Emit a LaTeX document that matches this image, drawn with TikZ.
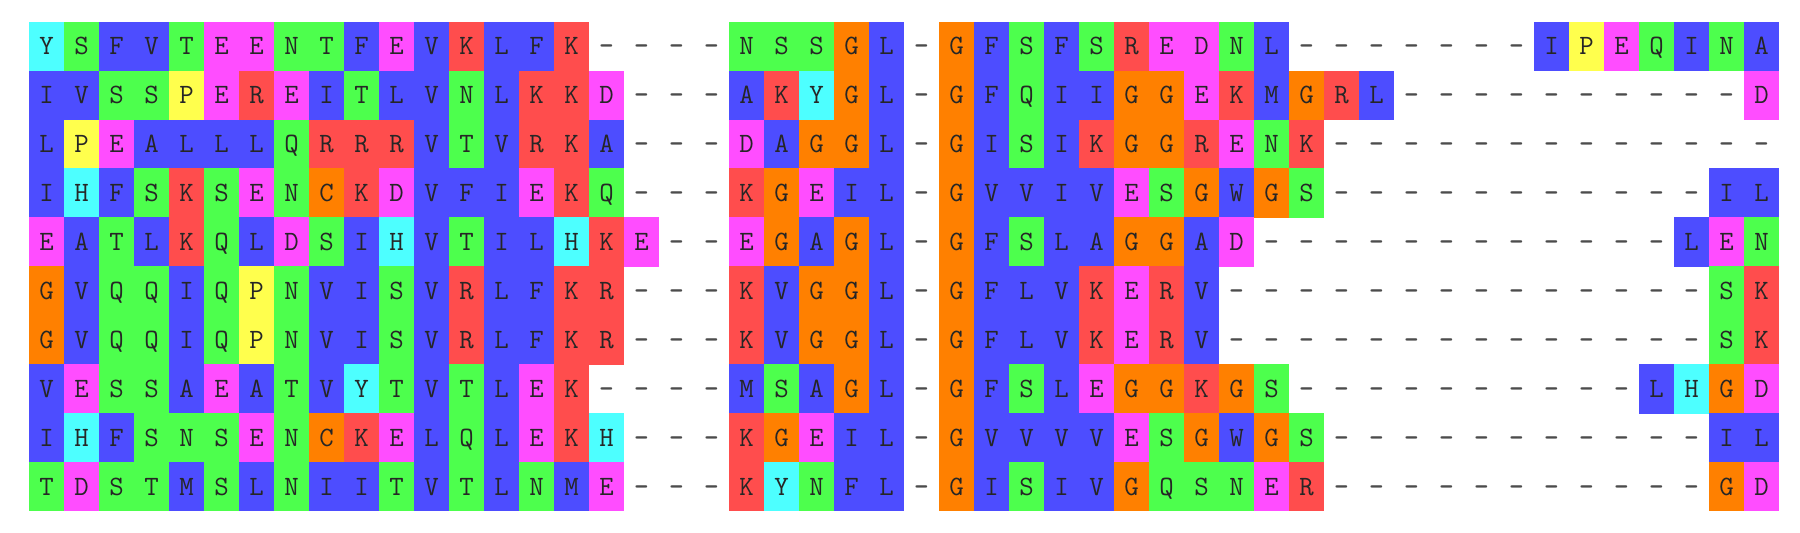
\documentclass[tikz,border=0pt]{standalone}
\definecolor{resblue}{HTML}{4D4DFF}
\definecolor{resgreen}{HTML}{4DFF4D}
\definecolor{resmagenta}{HTML}{FF4DFF}
\definecolor{resred}{HTML}{FF4D4D}
\definecolor{resorange}{HTML}{FF8000}
\definecolor{resyellow}{HTML}{FFFF4D}
\definecolor{rescyan}{HTML}{4DFFFF}
\tikzset{
  cell/.style={minimum width=17.1pt, minimum height=24.75pt, inner sep=0pt,
    text height=8.5pt, text depth=0pt, text=black!85, font=\ttfamily\fontsize{14}{17}\selectfont},
  res A/.style={fill=resblue}, res I/.style={fill=resblue}, res L/.style={fill=resblue},
  res M/.style={fill=resblue}, res F/.style={fill=resblue}, res V/.style={fill=resblue},
  res W/.style={fill=resblue},
  res S/.style={fill=resgreen}, res T/.style={fill=resgreen}, res N/.style={fill=resgreen},
  res Q/.style={fill=resgreen},
  res D/.style={fill=resmagenta}, res E/.style={fill=resmagenta},
  res K/.style={fill=resred}, res R/.style={fill=resred},
  res G/.style={fill=resorange}, res C/.style={fill=resorange},
  res P/.style={fill=resyellow},
  res H/.style={fill=rescyan}, res Y/.style={fill=rescyan},
  res -/.style={text=black!70, font=\ttfamily\bfseries\fontsize{14}{17}\selectfont},
}
\begin{document}
\begin{tikzpicture}
  %\draw[help lines,xstep=17.5pt,ystep=24.45pt] (14.5pt,-11pt) grid (889.5pt,-255.5pt); %helper grid

  \useasboundingbox (0,0) rectangle (900pt,-266pt);

  % one line per sequence, gaps as -
  \foreach \seq [count=\r from 0] in {
    {Y,S,F,V,T,E,E,N,T,F,E,V,K,L,F,K,-,-,-,-,N,S,S,G,L,-,G,F,S,F,S,R,E,D,N,L,-,-,-,-,-,-,-,I,P,E,Q,I,N,A},
    {I,V,S,S,P,E,R,E,I,T,L,V,N,L,K,K,D,-,-,-,A,K,Y,G,L,-,G,F,Q,I,I,G,G,E,K,M,G,R,L,-,-,-,-,-,-,-,-,-,-,D},
    {L,P,E,A,L,L,L,Q,R,R,R,V,T,V,R,K,A,-,-,-,D,A,G,G,L,-,G,I,S,I,K,G,G,R,E,N,K,-,-,-,-,-,-,-,-,-,-,-,-,-},
    {I,H,F,S,K,S,E,N,C,K,D,V,F,I,E,K,Q,-,-,-,K,G,E,I,L,-,G,V,V,I,V,E,S,G,W,G,S,-,-,-,-,-,-,-,-,-,-,-,I,L},
    {E,A,T,L,K,Q,L,D,S,I,H,V,T,I,L,H,K,E,-,-,E,G,A,G,L,-,G,F,S,L,A,G,G,A,D,-,-,-,-,-,-,-,-,-,-,-,-,L,E,N},
    {G,V,Q,Q,I,Q,P,N,V,I,S,V,R,L,F,K,R,-,-,-,K,V,G,G,L,-,G,F,L,V,K,E,R,V,-,-,-,-,-,-,-,-,-,-,-,-,-,-,S,K},
    {G,V,Q,Q,I,Q,P,N,V,I,S,V,R,L,F,K,R,-,-,-,K,V,G,G,L,-,G,F,L,V,K,E,R,V,-,-,-,-,-,-,-,-,-,-,-,-,-,-,S,K},
    {V,E,S,S,A,E,A,T,V,Y,T,V,T,L,E,K,-,-,-,-,M,S,A,G,L,-,G,F,S,L,E,G,G,K,G,S,-,-,-,-,-,-,-,-,-,-,L,H,G,D},
    {I,H,F,S,N,S,E,N,C,K,E,L,Q,L,E,K,H,-,-,-,K,G,E,I,L,-,G,V,V,V,V,E,S,G,W,G,S,-,-,-,-,-,-,-,-,-,-,-,I,L},
    {T,D,S,T,M,S,L,N,I,I,T,V,T,L,N,M,E,-,-,-,K,Y,N,F,L,-,G,I,S,I,V,G,Q,S,N,E,R,-,-,-,-,-,-,-,-,-,-,-,G,D}}
  {
    \foreach \aa [count=\c from 0] in \seq {
      \node[cell,res \aa] (r\r c\c) at ({14.5pt+(\c+0.5)*17.5pt},{-11pt-(\r+0.5)*24.45pt}) {\aa}; % residue
    }
  }

\end{tikzpicture}
\end{document}
